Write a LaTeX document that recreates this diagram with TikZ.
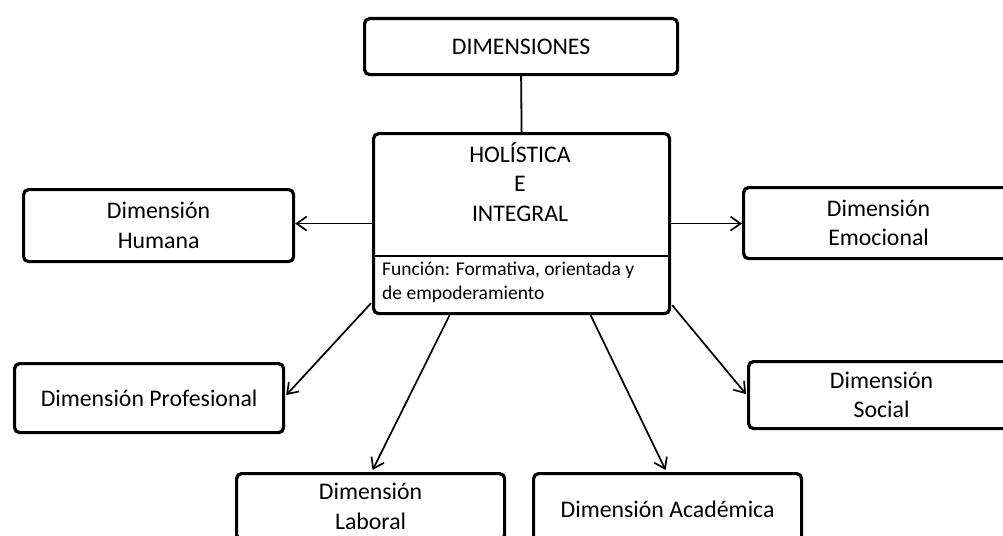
\documentclass[tikz,border=0pt]{standalone}
\usepackage{fontspec}
\setmainfont{Carlito}
\usetikzlibrary{arrows.meta,calc}
\begin{document}
\begin{tikzpicture}[x=1pt,y=-1pt,
  box/.style={draw,line width=3.2pt,rounded corners=5pt,inner sep=0pt,anchor=north west,
              align=center,font=\fontsize{23.8}{29.5}\selectfont},
  lbl/.style={align=center,font=\fontsize{23.8}{29.5}\selectfont,inner sep=0pt},
  arr/.style={line width=1.7pt,-{Straight Barb[length=10pt,width=14pt,line width=1.7pt]}},
  con/.style={line width=1.8pt}]
\useasboundingbox[fill=white] (0,0) rectangle (1003,535);
\clip (0,0) rectangle (1003,535);

\node[box,minimum width=313pt,minimum height=56pt] (dim) at (363,17) {DIMENSIONES};
\node[box,minimum width=296pt,minimum height=180pt] (hol) at (372,132) {};
\node[lbl] (holt) at (520,182) {HOLÍSTICA\\E\\INTEGRAL};
\node[inner sep=0pt,anchor=west,align=left,font=\fontsize{19.5}{24}\selectfont] (fun) at (382,282)
  {Función: Formativa, orientada y\\de empoderamiento};
\coordinate (dv) at (0,256);
\draw[line width=1.3pt] (hol.west |- dv) -- (hol.east |- dv);

\node[box,minimum width=270pt,minimum height=72pt] (hum) at (22,188) {Dimensión\\Humana};
\node[box,minimum width=270pt,minimum height=71pt] (emo) at (742,186) {Dimensión\\Emocional};
\node[box,minimum width=269pt,minimum height=69pt] (pro) at (13,362) {Dimensión Profesional};
\node[box,minimum width=266pt,minimum height=67pt] (soc) at (747,360) {Dimensión\\Social};
\node[box,minimum width=268pt,minimum height=66pt] (lab) at (235,472) {Dimensión\\Laboral};
\node[box,minimum width=268pt,minimum height=72pt] (aca) at (532,472) {Dimensión Académica};

\draw[con] (dim.south) -- (hol.north);
\draw[arr] (hol.west) -- (hum.east |- hol.west);
\draw[arr] (hol.east) -- (emo.west |- hol.east);
\draw[arr] ($(hol.south west)+(-1,-12)$) -- ($(pro.east)+(1,-3)$);
\draw[arr] ($(hol.south east)+(1,-10)$) -- ($(soc.west)+(-1,-1)$);
\draw[arr] ($(hol.south)+(-72,0)$) -- ($(lab.north)+(2,-2)$);
\draw[arr] ($(hol.south)+(69,0)$) -- ($(aca.north)+(-2,-2)$);
\end{tikzpicture}
\end{document}
